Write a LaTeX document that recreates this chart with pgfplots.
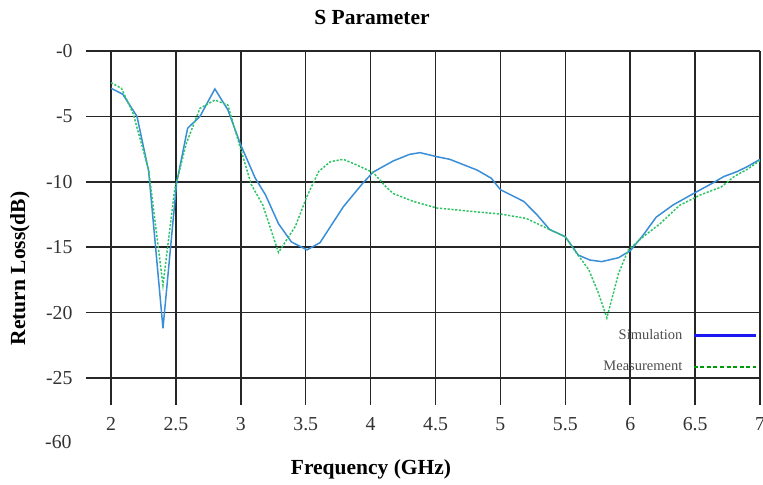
\documentclass[border=0pt]{standalone}
\usepackage{pgfplots}
\pgfplotsset{compat=1.18}
\usepackage{fontspec}
\setmainfont{Liberation Serif}
\definecolor{simblue}{HTML}{3A8ED8}
\definecolor{meagreen}{HTML}{2EC466}
\definecolor{legblue}{HTML}{1A1AF0}
\definecolor{leggreen}{HTML}{00990A}
\begin{document}
\begin{tikzpicture}
\useasboundingbox (-43pt,-39.5pt) rectangle (338.5pt,202.5pt);
\begin{axis}[
  scale only axis,
  width=337pt, height=177pt,
  xmin=1.807, xmax=7, ymin=-27.06, ymax=0,
  xtick={2,2.5,3,3.5,4,4.5,5,5.5,6,6.5,7},
  xticklabels={2,2.5,3,3.5,4,4.5,5,5.5,6,6.5,7},
  ytick={-25,-20,-15,-10,-5,0},
  yticklabels={-25,-20,-15,-10,-5,-0},
  xmajorgrids, ymajorgrids,
  grid style={black!85, line width=0.75pt},
  axis line style={draw=none},
  major tick style={draw=none},
  tick label style={font=\fontsize{9.9}{12}\selectfont, text=black!80},
  xticklabel style={yshift=-2.7pt},
  yticklabel style={xshift=-3.2pt},
  legend plot pos=right,
  legend cell align=right,
  legend image code/.code={\draw[#1] (0pt,0pt) -- (31pt,0pt);},
  legend style={draw=none, fill=none, font=\fontsize{7.25}{8}\selectfont, text=black!70,
    at={(rel axis cs:1.005,0.238)}, anchor=north east, row sep=5.5pt, column sep=3pt},
]
\addplot[simblue, line width=0.75pt, forget plot] coordinates {
(2.0,-2.85) (2.09,-3.3) (2.2,-5.0) (2.29,-9.2) (2.40,-21.2) (2.505,-10.1) (2.59,-5.9) (2.685,-5.0) (2.80,-2.9) (2.90,-4.5) (3.0,-7.2) (3.11,-9.7) (3.19,-11.0) (3.29,-13.2) (3.39,-14.6) (3.51,-15.2) (3.61,-14.65) (3.79,-11.9) (3.94,-10.1) (4.02,-9.25) (4.175,-8.4) (4.30,-7.9) (4.38,-7.77) (4.51,-8.08) (4.61,-8.28) (4.82,-9.1) (4.93,-9.73) (5.0,-10.6) (5.18,-11.5) (5.28,-12.5) (5.38,-13.65) (5.50,-14.2) (5.60,-15.6) (5.69,-15.98) (5.78,-16.1) (5.91,-15.8) (6.0,-15.27) (6.10,-14.07) (6.20,-12.7) (6.33,-11.77) (6.49,-10.88) (6.56,-10.5) (6.64,-10.07) (6.72,-9.6) (6.82,-9.23) (6.90,-8.85) (7.0,-8.28)
};
\addplot[meagreen, line width=0.75pt, dash pattern=on 1.1pt off 0.8pt, forget plot] coordinates {
(2.0,-2.42) (2.08,-2.85) (2.17,-4.77) (2.29,-9.1) (2.40,-17.9) (2.49,-10.6) (2.58,-7.06) (2.685,-4.38) (2.80,-3.75) (2.90,-4.13) (2.99,-7.2) (3.08,-10.2) (3.17,-11.8) (3.29,-15.4) (3.42,-13.4) (3.51,-11.1) (3.60,-9.2) (3.69,-8.46) (3.79,-8.28) (3.89,-8.7) (4.02,-9.3) (4.12,-10.4) (4.175,-10.9) (4.33,-11.5) (4.51,-12.0) (4.82,-12.3) (5.0,-12.46) (5.20,-12.8) (5.36,-13.56) (5.50,-14.2) (5.59,-15.5) (5.68,-16.7) (5.755,-18.5) (5.82,-20.4) (5.91,-17.0) (5.985,-15.2) (6.10,-14.2) (6.23,-13.2) (6.38,-11.8) (6.54,-11.0) (6.70,-10.4) (6.80,-9.6) (6.90,-9.05) (7.0,-8.38)
};
\addlegendimage{legblue, line width=1.3pt}
\addlegendentry{Simulation}
\addlegendimage{leggreen, line width=1pt, dash pattern=on 2pt off 1.3pt}
\addlegendentry{Measurement}
\end{axis}
\node[anchor=base east, inner sep=0pt, text=black!80, font=\fontsize{9.9}{12}\selectfont] at (-7pt,-21.5pt) {-60};
\node[anchor=base, inner sep=0pt, font=\fontsize{10.75}{13}\selectfont\bfseries] at (143pt,190.5pt) {S Parameter};
\node[anchor=base, inner sep=0pt, font=\fontsize{10.75}{13}\selectfont\bfseries] at (142.5pt,-34.5pt) {Frequency (GHz)};
\node[rotate=90, anchor=center, inner sep=0pt, font=\fontsize{10.75}{13}\selectfont\bfseries] at (-33pt,68.25pt) {Return Loss(dB)};
\end{tikzpicture}
\end{document}
